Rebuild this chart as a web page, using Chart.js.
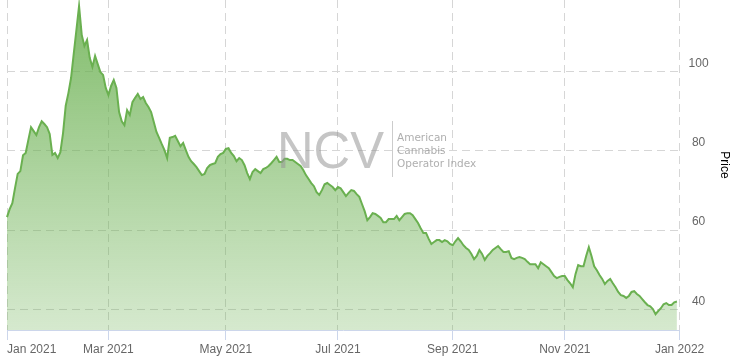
<!DOCTYPE html>
<html>
<head>
<meta charset="utf-8">
<script src="https://cdn.jsdelivr.net/npm/chart.js@4/dist/chart.umd.min.js"></script>
<style>
  html, body { margin: 0; padding: 0; background: #fff; }
  #wrap { width: 733px; height: 359px; position: relative; }
</style>
</head>
<body>
<div id="wrap"><canvas id="priceChart"></canvas></div>
<script>
// Index price, one value per US trading day of 2021
const prices = [
  63.3, 65.3, 66.8, 70.6, 74.2, 74.9, 78.9, 79.5, 82.8, 86.0,
  85.0, 84.0, 86.0, 87.5, 86.8, 86.0, 84.3, 79.0, 79.5, 78.2,
  79.7, 84.5, 91.4, 94.6, 98.4, 104.5, 110.5, 116.6, 109.3, 106.5,
  108.0, 103.5, 101.2, 104.0, 101.9, 99.9, 99.2, 95.9, 94.1, 96.4,
  97.9, 95.9, 89.8, 87.5, 86.5, 90.3, 89.1, 92.3, 93.4, 94.4,
  93.1, 93.6, 92.1, 91.1, 89.8, 87.3, 84.8, 83.3, 81.7, 80.2,
  78.2, 83.3, 83.5, 83.8, 82.5, 81.2, 82.0, 80.2, 78.5, 77.4,
  76.7, 75.9, 74.9, 73.9, 74.2, 75.7, 76.4, 76.7, 76.9, 78.5,
  79.2, 79.5, 80.5, 80.7, 79.5, 78.7, 77.4, 78.2, 77.7, 76.4,
  74.4, 72.9, 74.7, 75.4, 74.9, 74.4, 75.4, 75.7, 76.2, 76.9,
  77.7, 78.5, 77.2, 77.2, 78.0, 78.0, 77.7, 77.7, 77.2, 76.7,
  76.2, 75.2, 73.9, 72.9, 71.9, 71.1, 69.6, 68.9, 70.1, 71.6,
  71.9, 71.4, 70.9, 70.1, 70.9, 70.6, 69.6, 68.6, 69.4, 70.1,
  69.9, 69.1, 68.4, 66.6, 64.8, 62.5, 63.3, 64.3, 64.1, 63.6,
  63.1, 62.0, 62.0, 62.8, 62.8, 62.8, 63.6, 62.5, 63.3, 64.1,
  64.3, 64.3, 63.8, 62.8, 61.8, 60.5, 59.3, 59.3, 57.8, 56.5,
  57.0, 57.5, 57.5, 57.0, 57.5, 57.2, 56.5, 56.2, 57.2, 58.0,
  57.2, 56.2, 55.5, 55.0, 54.0, 52.7, 53.5, 55.0, 54.0, 52.5,
  53.5, 54.2, 55.0, 55.5, 56.0, 55.2, 54.5, 54.5, 54.7, 53.0,
  52.7, 53.0, 53.2, 53.0, 52.7, 52.0, 51.4, 51.4, 51.4, 50.4,
  51.9, 51.4, 50.9, 50.4, 49.4, 48.4, 47.9, 48.2, 48.4, 48.4,
  47.4, 46.6, 45.6, 48.9, 51.2, 50.9, 50.9, 53.5, 55.7, 53.5,
  50.9, 49.9, 48.7, 47.7, 46.4, 47.2, 47.7, 46.6, 45.6, 44.4,
  43.6, 43.4, 42.9, 43.4, 44.4, 44.6, 43.9, 43.4, 42.6, 41.8,
  41.1, 40.8, 40.1, 38.8, 39.6, 40.3, 41.3, 41.6, 41.1, 41.1,
  41.8, 42.0
];

const marketHolidays = ["2021-01-01", "2021-01-18", "2021-02-15", "2021-04-02", "2021-05-31",
                        "2021-07-05", "2021-09-06", "2021-11-25", "2021-12-24"];
const monthNames = ["Jan", "Feb", "Mar", "Apr", "May", "Jun", "Jul", "Aug", "Sep", "Oct", "Nov", "Dec"];
const yTickValues = [40, 60, 80, 100];
const yMin = 34.8;
const yMax = 118.1;

// trading days of 2021 (ordinal axis), plus the first one of 2022 for the last label
const tradingDays = [];
for (let t = Date.UTC(2021, 0, 1); t <= Date.UTC(2021, 11, 31); t += 86400000) {
  const d = new Date(t);
  const iso = d.toISOString().slice(0, 10);
  const wd = d.getUTCDay();
  if (wd === 0 || wd === 6 || marketHolidays.includes(iso)) continue;
  tradingDays.push(iso);
}
tradingDays.push("2022-01-03");

// first trading day of every second month gets a label
const labelIdx = [];
tradingDays.forEach((iso, i) => {
  const m = +iso.slice(5, 7) - 1;
  const prev = i > 0 ? +tradingDays[i - 1].slice(5, 7) - 1 : -1;
  if (m !== prev && m % 2 === 0) labelIdx.push(i);
});

function monthLabel(iso) {
  return monthNames[+iso.slice(5, 7) - 1] + " " + iso.slice(0, 4);
}

const lineGreen = "rgb(106, 176, 80)";

const xLabels = {
  id: "xLabels",
  afterDraw(chart) {
    const { ctx, chartArea } = chart;
    const scale = chart.scales.x;
    ctx.save();
    ctx.font = "12px 'Liberation Sans', Arial, sans-serif";
    ctx.fillStyle = "#666666";
    ctx.textBaseline = "middle";
    ctx.textAlign = "center";
    labelIdx.forEach((i) => {
      const text = monthLabel(tradingDays[i]);
      const w = ctx.measureText(text).width;
      const px = scale.getPixelForValue(i);
      const cx = Math.max(px, chartArea.left + w / 2);
      ctx.fillText(text, cx, 350);
    });
    ctx.restore();
  }
};

const watermark = {
  id: "watermark",
  afterDatasetsDraw(chart) {
    const ctx = chart.ctx;
    ctx.save();
    ctx.font = "52px 'Liberation Sans', Arial, sans-serif";
    ctx.fillStyle = "rgba(150, 150, 150, 0.55)";
    ctx.textBaseline = "alphabetic";
    ctx.textAlign = "left";
    const w = ctx.measureText("NCV").width;
    ctx.translate(277, 167.5);
    ctx.scale(107 / w, 1);
    ctx.fillText("NCV", 0, 0);
    ctx.restore();

    ctx.save();
    ctx.strokeStyle = "rgba(170, 170, 170, 0.6)";
    ctx.lineWidth = 1;
    ctx.beginPath();
    ctx.moveTo(392.5, 121);
    ctx.lineTo(392.5, 177);
    ctx.stroke();
    ctx.font = "10.5px 'DejaVu Sans', sans-serif";
    ctx.fillStyle = "rgba(140, 140, 140, 0.7)";
    ctx.fillText("American", 397, 141);
    ctx.fillText("Cannabis", 397, 154);
    ctx.fillText("Operator Index", 397, 167);
    ctx.restore();
  }
};

Chart.defaults.font.family = "'Liberation Sans', Arial, sans-serif";

new Chart(document.getElementById("priceChart"), {
  type: "line",
  data: {
    labels: tradingDays,
    datasets: [{
      label: "Price",
      data: prices,
      borderColor: lineGreen,
      borderWidth: 2,
      pointRadius: 0,
      tension: 0,
      fill: "start",
      backgroundColor: (c) => {
        const area = c.chart.chartArea;
        if (!area) return "rgba(106, 176, 80, 0.5)";
        const g = c.chart.ctx.createLinearGradient(0, area.top, 0, area.bottom);
        g.addColorStop(0, "rgba(106, 176, 80, 0.85)");
        g.addColorStop(1, "rgba(106, 176, 80, 0.28)");
        return g;
      },
    }],
  },
  options: {
    responsive: true,
    maintainAspectRatio: false,
    animation: false,
    layout: { padding: { left: 7, right: 0, top: 0, bottom: 19 } },
    plugins: {
      legend: { display: false },
      tooltip: { enabled: false },
    },
    scales: {
      x: {
        type: "category",
        offset: false,
        afterBuildTicks: (scale) => {
          scale.ticks = labelIdx.map((i) => ({ value: i }));
        },
        afterFit: (scale) => {
          scale.paddingLeft = 0;
          scale.paddingRight = 0;
        },
        ticks: { display: false, autoSkip: false },
        grid: {
          color: "#d6d6d6",
          lineWidth: 1,
          tickLength: 10,
          tickColor: "#ccd6eb",
        },
        border: { display: true, color: "#ccd6eb", width: 1, dash: [8, 5] },
      },
      y: {
        position: "right",
        min: yMin,
        max: yMax,
        afterBuildTicks: (scale) => {
          scale.ticks = yTickValues.map((v) => ({ value: v }));
        },
        afterFit: (scale) => {
          scale.paddingTop = 0;
          scale.paddingBottom = 0;
        },
        ticks: {
          color: "#666666",
          font: { size: 12 },
          padding: 9,
          crossAlign: "center",
          labelOffset: -8,
        },
        grid: { color: "#d6d6d6", drawTicks: false },
        border: { display: false, dash: [8, 5] },
        title: {
          display: true,
          text: "Price",
          color: "#000000",
          font: { size: 12 },
          padding: { top: 1, bottom: 0 },
        },
      },
    },
  },
  plugins: [xLabels, watermark],
});
</script>
</body>
</html>
